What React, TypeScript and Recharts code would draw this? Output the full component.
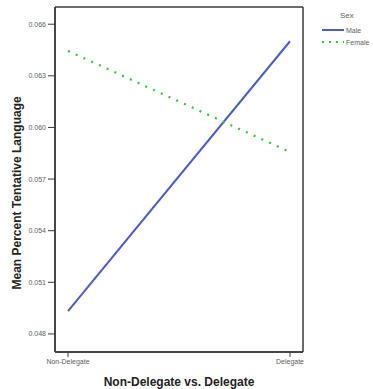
import React from 'react';
import { LineChart, Line, XAxis, YAxis, CartesianGrid } from 'recharts';

const groups = ['Non-Delegate', 'Delegate'];
const maleMeans = [0.04933, 0.06501];
const femaleMeans = [0.06445, 0.05857];
const yTicks = [0.048, 0.051, 0.054, 0.057, 0.06, 0.063, 0.066];
const yDomain = [0.04695, 0.067];

const data = groups.map((g, i) => ({ group: g, male: maleMeans[i], female: femaleMeans[i] }));

const FONT = '"Liberation Sans", Arial, sans-serif';
const AXIS = '#3a3a3a';
const TICK = '#606060';
const MALE = '#4a5ec0';
const FEMALE = '#33c43a';

// legend drawn beside the plot, like the SPSS output
const SexLegend = () => (
  <svg width={60} height={50} style={{ position: 'absolute', left: 314, top: 0, overflow: 'visible' }}>
    <text x={26} y={18} fontSize={8} fill={TICK} fontFamily={FONT}>Sex</text>
    <line x1={8} y1={30} x2={30} y2={30} stroke={MALE} strokeWidth={2} />
    <text x={32} y={33} fontSize={7} fill={TICK} fontFamily={FONT}>Male</text>
    <line x1={8} y1={42} x2={30} y2={42} stroke={FEMALE} strokeWidth={2} strokeDasharray="2 5" />
    <text x={32} y={45} fontSize={7} fill={TICK} fontFamily={FONT}>Female</text>
  </svg>
);

// box around the whole plot area
const frameX = ({ offset }: any) => [offset.left, offset.left + offset.width];
const frameY = ({ offset }: any) => [offset.top, offset.top + offset.height];

export default function App() {
  return (
    <div style={{ position: 'absolute', left: 0, top: 0, width: 373, height: 389, background: '#fff', overflow: 'hidden' }}>
      <LineChart
        width={373}
        height={389}
        data={data}
        margin={{ top: 7, right: 70, left: 0, bottom: 0 }}
        style={{ fontFamily: FONT }}
      >
        <CartesianGrid
          stroke={AXIS}
          strokeWidth={1.5}
          verticalCoordinatesGenerator={frameX}
          horizontalCoordinatesGenerator={frameY}
        />
        <XAxis
          dataKey="group"
          padding={{ left: 13, right: 13 }}
          height={37}
          axisLine={{ stroke: AXIS, strokeWidth: 1.5 }}
          tickLine={{ stroke: AXIS, strokeWidth: 1 }}
          tickSize={5}
          tick={{ fontSize: 7, fill: TICK }}
          label={{ value: 'Non-Delegate vs. Delegate', position: 'insideBottom', offset: 3, fontSize: 12, fontWeight: 'bold', fill: '#222' }}
        />
        <YAxis
          domain={yDomain}
          ticks={yTicks}
          width={55}
          allowDataOverflow
          axisLine={{ stroke: AXIS, strokeWidth: 1.5 }}
          tickLine={{ stroke: AXIS, strokeWidth: 1 }}
          tickSize={7}
          tickFormatter={(v: number) => v.toFixed(3)}
          tick={{ fontSize: 7, fill: TICK }}
          label={{ value: 'Mean Percent Tentative Language', angle: -90, position: 'insideLeft', offset: 17, dy: 110, fontSize: 12, fontWeight: 'bold', fill: '#222' }}
        />
        <Line dataKey="male" name="Male" stroke={MALE} strokeWidth={2} dot={false} isAnimationActive={false} />
        <Line dataKey="female" name="Female" stroke={FEMALE} strokeWidth={2.2} strokeDasharray="2 6.5" dot={false} isAnimationActive={false} />
      </LineChart>
      <SexLegend />
    </div>
  );
}
